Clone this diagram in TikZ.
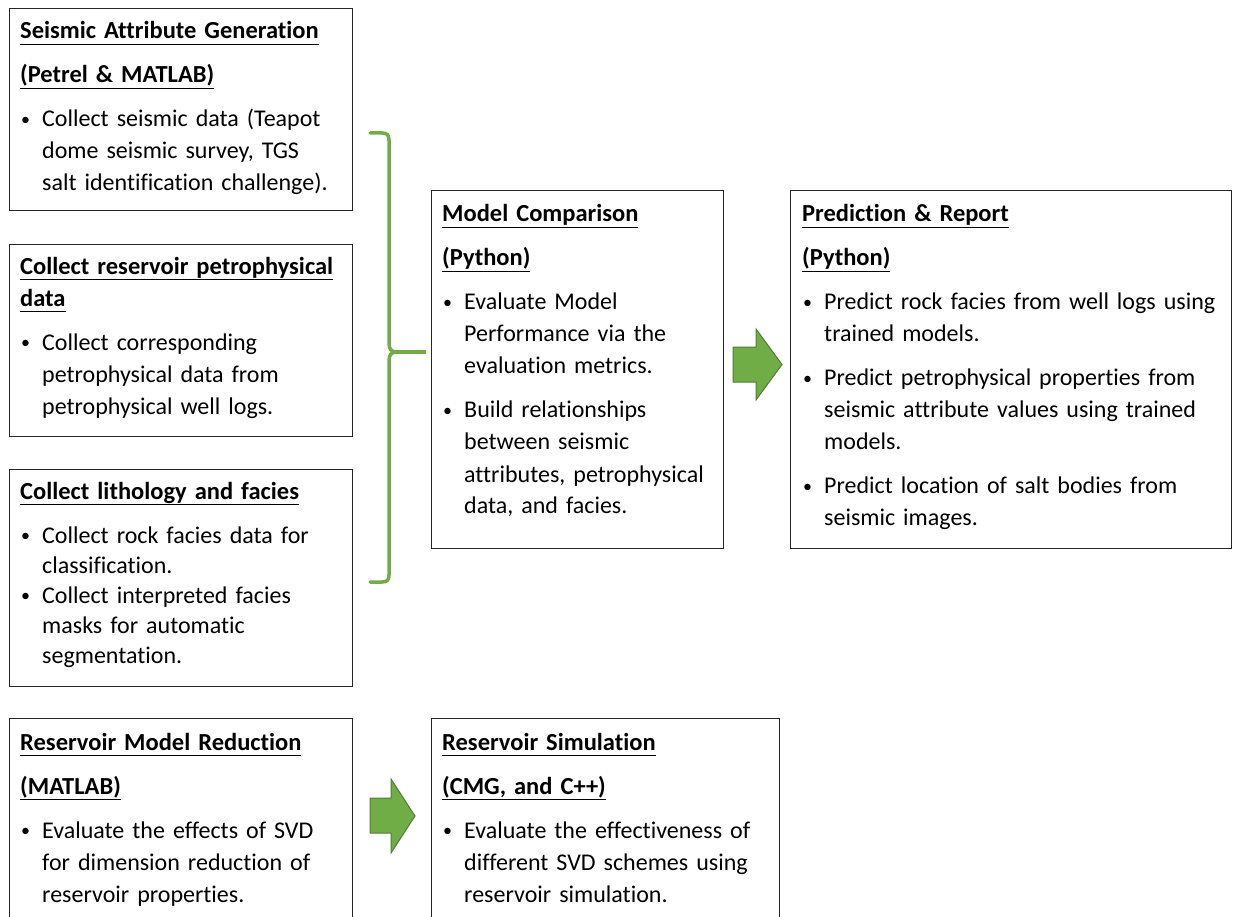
\documentclass[tikz,border=0pt]{standalone}
\usepackage{fontspec}
\setmainfont{Carlito}[Ligatures={NoCommon}]
\usetikzlibrary{calc}
\definecolor{grn}{HTML}{70AD47}
\definecolor{grndark}{HTML}{507E32}
\definecolor{frm}{HTML}{262626}
\newcommand\hd[1]{\leavevmode{\fontsize{24.5}{32}\selectfont\bfseries\setbox0\hbox{#1}\rlap{\rule[-6pt]{\wd0}{1.4pt}}\box0}}
\newcommand\bu{\leavevmode\makebox[22pt][l]{\hspace{1pt}\raisebox{1.5pt}{\scalebox{0.75}{•}}}}
\newcommand\ind{\hspace*{22pt}}
\tikzset{
  frame/.style={draw=frm, line width=1.4pt, inner sep=0pt, anchor=north west},
  txt/.style={anchor=base west, inner sep=0pt, text width=600pt, align=left,
    font=\fontsize{24}{32}\selectfont},
  txttight/.style={txt, font=\fontsize{24}{30}\selectfont},
  blockarrow/.style={fill=grn, draw=grndark, line width=1pt, line join=miter},
  bracepath/.style={draw=grn, line width=3.5pt, line cap=round, line join=round}
}
\begin{document}
\begin{tikzpicture}[x=1pt,y=-1pt]
\useasboundingbox (0,0) rectangle (1233,917);
\clip (0,0) rectangle (1233,917);
\fill[white] (0,0) rectangle (1233,917);
% frames
\node[frame, minimum width=343pt, minimum height=202pt] (b1) at (9,8) {};
\node[frame, minimum width=343pt, minimum height=192pt] (b2) at (9,244) {};
\node[frame, minimum width=343pt, minimum height=217pt] (b3) at (9,469) {};
\node[frame, minimum width=292pt, minimum height=358pt] (b4) at (431,190) {};
\node[frame, minimum width=441pt, minimum height=358pt] (b5) at (790,190) {};
\node[frame, minimum width=343pt, minimum height=230pt] (b6) at (9,718) {};
\node[frame, minimum width=348pt, minimum height=230pt] (b7) at (431,718) {};
% texts
\node[txt] (t1) at (20,39) {\hd{Seismic Attribute Generation}\\[12pt]
\hd{(Petrel \& MATLAB)}\\[12pt]
\bu Collect seismic data (Teapot\\
\ind dome seismic survey, TGS\\
\ind salt identification challenge).};
\node[txt] (t2) at (20,274) {\hd{Collect reservoir petrophysical}\\
\hd{data}\\[12pt]
\bu Collect corresponding\\
\ind petrophysical data from\\
\ind petrophysical well logs.};
\node[txttight] (t3) at (20,499) {\hd{Collect lithology and facies}\\[14pt]
\bu Collect rock facies data for\\
\ind classification.\\
\bu Collect interpreted facies\\
\ind masks for automatic\\
\ind segmentation.};
\node[txt] (t4) at (442,222) {\hd{Model Comparison}\\[12pt]
\hd{(Python)}\\[12pt]
\bu Evaluate Model\\
\ind Performance via the\\
\ind evaluation metrics.\\[12pt]
\bu Build relationships\\
\ind between seismic\\
\ind attributes, petrophysical\\
\ind data, and facies.};
\node[txt] (t5) at (802,222) {\hd{Prediction \& Report}\\[12pt]
\hd{(Python)}\\[12pt]
\bu Predict rock facies from well logs using\\
\ind trained models.\\[12pt]
\bu Predict petrophysical properties from\\
\ind seismic attribute values using trained\\
\ind models.\\[12pt]
\bu Predict location of salt bodies from\\
\ind seismic images.};
\node[txt] (t6) at (20,750) {\hd{Reservoir Model Reduction}\\[12pt]
\hd{(MATLAB)}\\[12pt]
\bu Evaluate the effects of SVD\\
\ind for dimension reduction of\\
\ind reservoir properties.};
\node[txt] (t7) at (442,750) {\hd{Reservoir Simulation}\\[12pt]
\hd{(CMG, and C++)}\\[12pt]
\bu Evaluate the effectiveness of\\
\ind different SVD schemes using\\
\ind reservoir simulation.};
% brace
\coordinate (brtop) at (370,133);
\coordinate (brbot) at (370,582);
\coordinate (brtip) at (426,352);
\draw[bracepath] (brtop) -- (382,133) .. controls (387,133) and (389,135) .. (389,140)
  -- (389,343) .. controls (389,349) and (391,352) .. (397,352)
  .. controls (391,352) and (389,355) .. (389,361)
  -- (389,575) .. controls (389,580) and (387,582) .. (382,582) -- (brbot);
\draw[bracepath, line cap=butt] (396,352) -- (brtip);
% block arrows
\draw[blockarrow] (733,347) -- (756,347) -- (756,329) -- (782,364.5) -- (756,400) -- (756,382) -- (733,382) -- cycle;
\draw[blockarrow] (370,798) -- (391,798) -- (391,779) -- (415,816) -- (391,853) -- (391,833) -- (370,833) -- cycle;
\end{tikzpicture}
\end{document}
